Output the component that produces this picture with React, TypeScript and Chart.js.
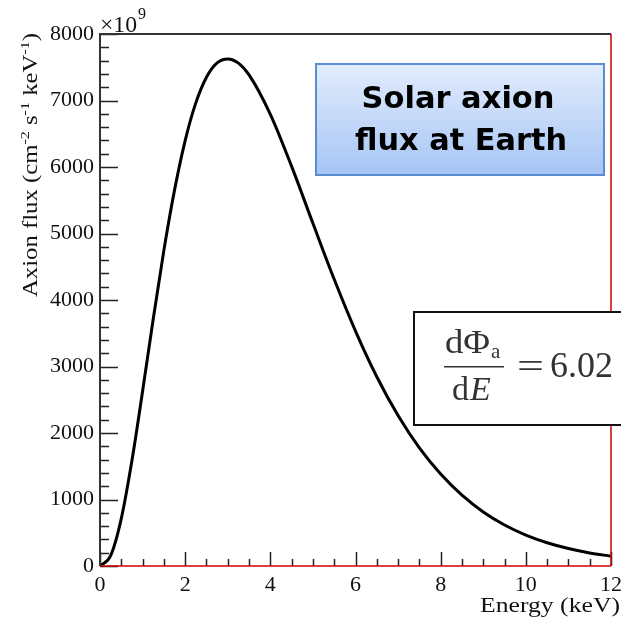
import React, { useEffect, useRef } from 'react';
import { Chart, registerables } from 'chart.js';

Chart.register(...registerables);

// ---- data ----
const energyKeV = [0, 0.25, 0.5, 0.75, 1, 1.25, 1.5, 1.75, 2, 2.25, 2.5, 2.75, 3, 3.25, 3.5, 4, 4.5, 5, 5.5, 6, 6.5, 7, 7.5, 8, 8.5, 9, 9.5, 10, 10.5, 11, 11.5, 12];
const axionFlux = [0, 157, 713, 1585, 2627, 3714, 4746, 5652, 6398, 6964, 7350, 7566, 7625, 7562, 7386, 6793, 6009, 5153, 4311, 3533, 2846, 2262, 1775, 1382, 1065, 813, 617, 466, 350, 263, 197, 148];
const xTickValues = [0, 2, 4, 6, 8, 10, 12];
const yTickValues = [0, 1000, 2000, 3000, 4000, 5000, 6000, 7000, 8000];
const xMinorStep = 0.5;
const yMinorStep = 200;
const xAxisTitle = 'Energy (keV)';
const yAxisTitleParts = [
  { t: 'Axion flux (cm', sup: false },
  { t: '-2', sup: true },
  { t: ' s', sup: false },
  { t: '-1', sup: true },
  { t: ' keV', sup: false },
  { t: '-1', sup: true },
  { t: ')', sup: false },
];
const exponentLabel = { base: '\u00d710', exp: '9' };
const calloutLines = ['Solar axion', 'flux at Earth'];
const equationValue = '6.02';

const SERIF = '"Liberation Serif", "Times New Roman", serif';
const SANS = '"DejaVu Sans", "Liberation Sans", sans-serif';

function fitText(ctx: CanvasRenderingContext2D, text: string, x: number, y: number, font: string, width: number | null, align: 'left' | 'right' | 'center' = 'left') {
  ctx.save();
  ctx.font = font;
  const w = ctx.measureText(text).width;
  const s = width ? width / w : 1;
  let x0 = x;
  if (align === 'right') x0 = x - w * s;
  else if (align === 'center') x0 = x - (w * s) / 2;
  ctx.translate(x0, y);
  ctx.scale(s, 1);
  ctx.textAlign = 'left';
  ctx.textBaseline = 'alphabetic';
  ctx.fillText(text, 0, 0);
  ctx.restore();
}

const decorPlugin = {
  id: 'decor',
  afterDraw(chart: any) {
    const ctx: CanvasRenderingContext2D = chart.ctx;
    const xs = chart.scales.x;
    const ys = chart.scales.y;
    const { left, right, top, bottom } = chart.chartArea;

    ctx.save();
    // ticks
    ctx.strokeStyle = '#222';
    ctx.lineWidth = 1.5;
    ctx.beginPath();
    for (let v = 0; v <= 8000 + 1e-6; v += yMinorStep) {
      const y = Math.round(ys.getPixelForValue(v)) + 0.5;
      const major = yTickValues.includes(Math.round(v));
      ctx.moveTo(left, y);
      ctx.lineTo(left + (major ? 18 : 9), y);
    }
    for (let v = 0; v <= 12 + 1e-6; v += xMinorStep) {
      const x = Math.round(xs.getPixelForValue(v)) + 0.5;
      const major = xTickValues.some((t) => Math.abs(t - v) < 1e-6);
      ctx.moveTo(x, bottom);
      ctx.lineTo(x, bottom - (major ? 14 : 7));
    }
    ctx.stroke();

    // frame
    ctx.lineWidth = 2;
    ctx.strokeStyle = '#333';
    ctx.beginPath();
    ctx.moveTo(left, bottom);
    ctx.lineTo(left, top);
    ctx.lineTo(right, top);
    ctx.stroke();
    ctx.strokeStyle = '#d40000';
    ctx.lineWidth = 1.5;
    ctx.beginPath();
    ctx.moveTo(left, bottom);
    ctx.lineTo(right, bottom);
    ctx.moveTo(right, top);
    ctx.lineTo(right, bottom);
    ctx.stroke();

    // exponent
    ctx.fillStyle = '#111';
    fitText(ctx, exponentLabel.base, left, top - 2, `23px ${SERIF}`, 37);
    fitText(ctx, exponentLabel.exp, left + 38, top - 15, `16px ${SERIF}`, null);

    // x title
    fitText(ctx, xAxisTitle, 620, 612, `22px ${SERIF}`, 140, 'right');

    // y title
    ctx.save();
    const big = `20px ${SERIF}`;
    const small = `13px ${SERIF}`;
    let total = 0;
    for (const p of yAxisTitleParts) {
      ctx.font = p.sup ? small : big;
      total += ctx.measureText(p.t).width;
    }
    const k = 264 / total;
    ctx.translate(37, 297);
    ctx.rotate(-Math.PI / 2);
    ctx.scale(k, 1);
    ctx.textBaseline = 'alphabetic';
    let u = 0;
    for (const p of yAxisTitleParts) {
      ctx.font = p.sup ? small : big;
      ctx.fillText(p.t, u, p.sup ? -8 : 0);
      u += ctx.measureText(p.t).width;
    }
    ctx.restore();

    // Solar axion callout
    const bx = 316, by = 64, bw = 288, bh = 111;
    const g = ctx.createLinearGradient(0, by, 0, by + bh);
    g.addColorStop(0, '#e2ecfc');
    g.addColorStop(1, '#a6c5f5');
    ctx.fillStyle = g;
    ctx.fillRect(bx, by, bw, bh);
    ctx.strokeStyle = '#5b8bd3';
    ctx.lineWidth = 2;
    ctx.strokeRect(bx, by, bw, bh);
    ctx.fillStyle = '#000';
    fitText(ctx, calloutLines[0], 458, 108, `bold 30px ${SANS}`, 193, 'center');
    fitText(ctx, calloutLines[1], 461, 150, `bold 30px ${SANS}`, 212, 'center');

    // equation box
    ctx.fillStyle = '#fff';
    ctx.fillRect(414, 312, 230, 113);
    ctx.strokeStyle = '#111';
    ctx.lineWidth = 2;
    ctx.strokeRect(414, 312, 230, 113);
    ctx.fillStyle = '#333';
    fitText(ctx, 'd\u03a6', 445, 353, `34px ${SERIF}`, 45);
    fitText(ctx, 'a', 491, 358, `21px ${SERIF}`, null);
    ctx.fillRect(444, 366, 60, 1.5);
    fitText(ctx, 'd', 452, 400, `34px ${SERIF}`, null);
    fitText(ctx, 'E', 470, 400, `italic 34px ${SERIF}`, null);
    fitText(ctx, '=', 517, 378, `36px ${SERIF}`, 27);
    fitText(ctx, equationValue, 550, 377, `36px ${SERIF}`, 63);
    ctx.restore();
  },
};

export default function App() {
  const ref = useRef<HTMLCanvasElement | null>(null);
  useEffect(() => {
    if (!ref.current) return;
    const tickFont = { family: SERIF, size: 22 };
    const chart = new Chart(ref.current, {
      type: 'line',
      data: {
        datasets: [
          {
            data: energyKeV.map((e, i) => ({ x: e, y: axionFlux[i] })),
            borderColor: '#000',
            borderWidth: 3,
            pointRadius: 0,
            cubicInterpolationMode: 'monotone',
            fill: false,
          },
        ],
      },
      options: {
        responsive: false,
        animation: false,
        devicePixelRatio: 1,
        layout: { padding: { top: 34, right: 10, left: 0, bottom: 0 } },
        plugins: { legend: { display: false }, tooltip: { enabled: false } },
        scales: {
          x: {
            type: 'linear',
            min: 0,
            max: 12,
            afterBuildTicks: (s: any) => {
              s.ticks = xTickValues.map((v) => ({ value: v }));
            },
            afterFit: (s: any) => {
              s.height = 56;
              s.paddingLeft = 0;
              s.paddingRight = 0;
            },
            ticks: { font: tickFont, color: '#111', padding: 6, maxRotation: 0, autoSkip: false, callback: (v: any) => String(v) },
            grid: { display: false, drawTicks: false },
            border: { display: false },
          },
          y: {
            type: 'linear',
            min: 0,
            max: 8000,
            afterBuildTicks: (s: any) => {
              s.ticks = yTickValues.map((v) => ({ value: v }));
            },
            afterFit: (s: any) => {
              s.width = 100;
              s.paddingTop = 0;
              s.paddingBottom = 0;
            },
            ticks: { font: tickFont, color: '#111', padding: 6, autoSkip: false, callback: (v: any) => String(v) },
            grid: { display: false, drawTicks: false },
            border: { display: false },
          },
        },
      } as any,
      plugins: [decorPlugin],
    });
    return () => chart.destroy();
  }, []);
  return (
    <div style={{ position: 'absolute', left: 0, top: 0, width: 621, height: 622, background: '#fff' }}>
      <canvas ref={ref} width={621} height={622} style={{ display: 'block' }} />
    </div>
  );
}
